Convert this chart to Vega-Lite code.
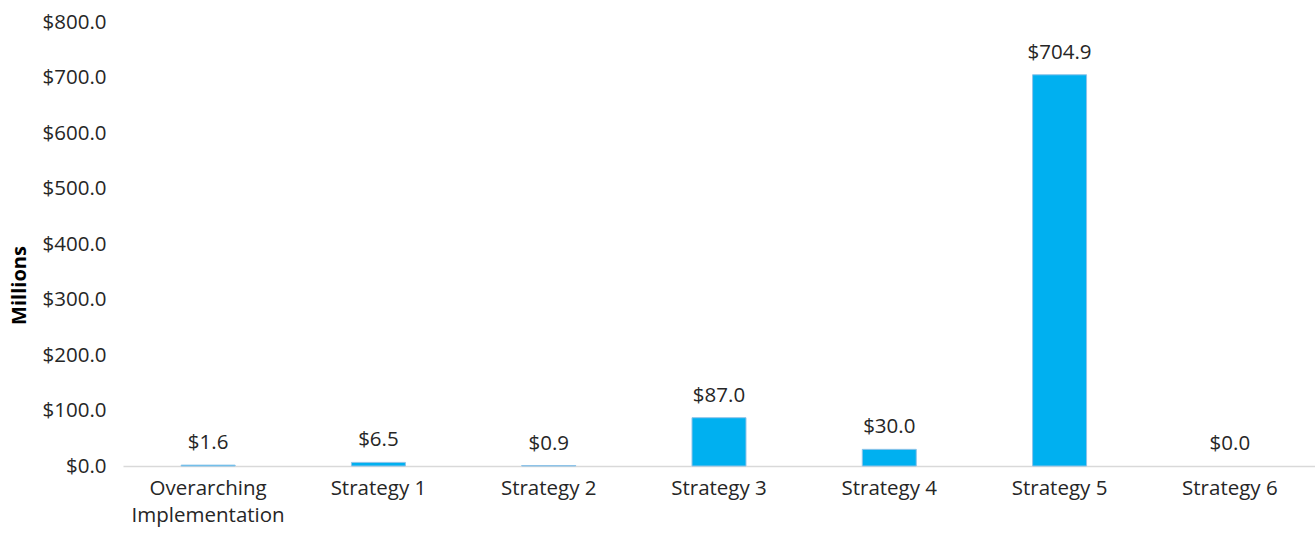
{
  "$schema": "https://vega.github.io/schema/vega-lite/v6.json",
  "width": 1192,
  "height": 444,
  "autosize": {"type": "none"},
  "padding": {"left": 123, "top": 22, "right": 0, "bottom": 75},
  "background": "white",
  "config": {
    "view": {"stroke": null},
    "font": "Open Sans"
  },
  "data": {
    "values": [
      {"category": "Overarching Implementation", "value": 1.6},
      {"category": "Strategy 1", "value": 6.5},
      {"category": "Strategy 2", "value": 0.9},
      {"category": "Strategy 3", "value": 87.0},
      {"category": "Strategy 4", "value": 30.0},
      {"category": "Strategy 5", "value": 704.9},
      {"category": "Strategy 6", "value": 0.0}
    ]
  },
  "encoding": {
    "x": {
      "field": "category",
      "type": "nominal",
      "sort": null,
      "scale": {"paddingInner": 0.683, "paddingOuter": 0.3415},
      "axis": {
        "title": null,
        "labelAngle": 0,
        "labelFont": "Open Sans",
        "labelFontSize": 20.5,
        "labelColor": "#262626",
        "labelPadding": 12,
        "labelLineHeight": 27,
        "ticks": false,
        "domainColor": "#D9D9D9",
        "domainWidth": 1.5,
        "labelExpr": "datum.value == 'Overarching Implementation' ? ['Overarching', 'Implementation'] : datum.value"
      }
    },
    "y": {
      "field": "value",
      "type": "quantitative",
      "scale": {"domain": [0, 800]},
      "axis": {
        "title": "Millions",
        "titleFont": "Open Sans",
        "titleFontSize": 20,
        "titleFontWeight": "bold",
        "titleColor": "#000000",
        "titleAngle": -90,
        "titleX": -114,
        "titleY": 263,
        "titleAlign": "center",
        "titleBaseline": "top",
        "values": [0, 100, 200, 300, 400, 500, 600, 700, 800],
        "labelExpr": "'$' + format(datum.value, '.1f')",
        "labelFont": "Open Sans",
        "labelFontSize": 20.5,
        "labelColor": "#262626",
        "labelPadding": 17,
        "ticks": false,
        "domain": false,
        "grid": false
      }
    }
  },
  "layer": [
    {
      "mark": {"type": "bar", "color": "#00B0F0", "strokeWidth": 1},
      "encoding": {
        "stroke": {
          "condition": {"test": "datum.value > 0", "value": "#8EC3E8"},
          "value": null
        }
      }
    },
    {
      "mark": {"type": "text", "baseline": "alphabetic", "dy": -16, "font": "Open Sans", "fontSize": 20.5, "color": "#262626"},
      "encoding": {
        "text": {"field": "value", "type": "quantitative", "format": "$.1f"}
      }
    }
  ]
}
